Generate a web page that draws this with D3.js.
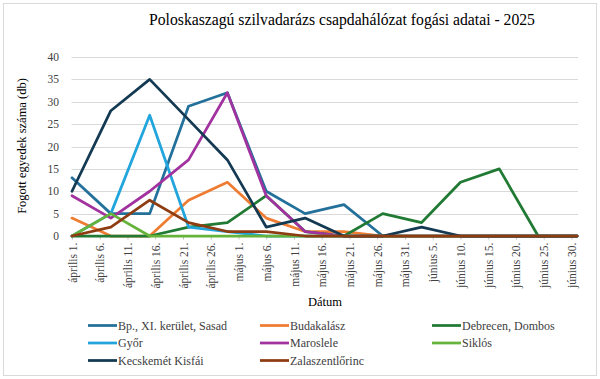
<!DOCTYPE html>
<html>
<head>
<meta charset="utf-8">
<script src="https://cdn.jsdelivr.net/npm/d3@7"></script>
<style>
  html, body { margin: 0; padding: 0; background: #fff; }
  svg { display: block; }
  svg text { font-family: "Liberation Serif", "Times New Roman", serif !important; }
</style>
</head>
<body>
<svg id="chart" width="600" height="379"></svg>
<script>
const titleText = "Poloskaszagú szilvadarázs csapdahálózat fogási adatai - 2025";
const yTitle = "Fogott egyedek száma (db)";
const xTitle = "Dátum";

const sampleDates = ["2025-04-01","2025-04-08","2025-04-15","2025-04-22","2025-04-29","2025-05-06","2025-05-13","2025-05-20","2025-05-27","2025-06-03","2025-06-10","2025-06-17","2025-06-24","2025-07-01"];

const tickDates = ["2025-04-01","2025-04-06","2025-04-11","2025-04-16","2025-04-21","2025-04-26","2025-05-01","2025-05-06","2025-05-11","2025-05-16","2025-05-21","2025-05-26","2025-05-31","2025-06-05","2025-06-10","2025-06-15","2025-06-20","2025-06-25","2025-06-30"];
const tickLabels = ["április 1.","április 6.","április 11.","április 16.","április 21.","április 26.","május 1.","május 6.","május 11.","május 16.","május 21.","május 26.","május 31.","június 5.","június 10.","június 15.","június 20.","június 25.","június 30."];
const yTicks = [0,5,10,15,20,25,30,35,40];

const seriesNames = ["Bp., XI. kerület, Sasad","Budakalász","Debrecen, Dombos","Győr","Maroslele","Siklós","Kecskemét Kisfái","Zalaszentlőrinc"];
const seriesColors = ["#23709A","#EE7D33","#217A33","#22A5DC","#A2329F","#66B33B","#133A52","#8E3D12"];

const bpSasad        = [13, 5, 5, 29, 32, 10, 5, 7, 0, 0, 0, 0, 0, 0];
const budakalasz     = [4, 0, 0, 8, 12, 4, 1, 1, 0, 0, 0, 0, 0, 0];
const debrecen       = [0, 0, 0, 2, 3, 9, 1, 0, 5, 3, 12, 15, 0, 0];
const gyor           = [0, 5, 27, 2, 1, 0, 0, 0, 0, 0, 0, 0, 0, 0];
const maroslele      = [9, 4, 10, 17, 32, 9, 1, 0, 0, 0, 0, 0, 0, 0];
const siklos         = [0, 5, 0, 0, 0, 0, 0, 0, 0, 0, 0, 0, 0, 0];
const kecskemet      = [10, 28, 35, 26, 17, 2, 4, 0, 0, 2, 0, 0, 0, 0];
const zalaszentlorinc= [0, 2, 8, 3, 1, 1, 0, 0, 0, 0, 0, 0, 0, 0];

const seriesValues = [bpSasad, budakalasz, debrecen, gyor, maroslele, siklos, kecskemet, zalaszentlorinc];

const parse = d3.utcParse("%Y-%m-%d");
const svg = d3.select("#chart");
const SERIF = "'Liberation Serif', 'Times New Roman', serif";

// outer border
svg.append("rect").attr("x", 3.5).attr("y", 3.5).attr("width", 593).attr("height", 372)
  .attr("fill", "#fff").attr("stroke", "#d9d9d9").attr("stroke-width", 1);

const x = d3.scaleUtc().domain([parse("2025-04-01"), parse("2025-07-01")]).range([72, 577]);
const y = d3.scaleLinear().domain([0, 40]).range([236, 57]);

// gridlines
svg.append("g").selectAll("line").data(yTicks.filter(d => d > 0)).join("line")
  .attr("x1", 71.5).attr("x2", 578)
  .attr("y1", d => Math.round(y(d)) + 0.5).attr("y2", d => Math.round(y(d)) + 0.5)
  .attr("stroke", "#d9d9d9").attr("stroke-width", 1);

// y axis labels
svg.append("g").selectAll("text").data(yTicks).join("text")
  .attr("x", 59).attr("y", d => y(d)).attr("dy", "0.35em")
  .attr("text-anchor", "end").attr("font-size", 11.5).attr("fill", "#404040")
  .style("font-family", SERIF)
  .text(d => d);

// x axis
const xAxis = d3.axisBottom(x)
  .tickValues(tickDates.map(parse))
  .tickFormat((d, i) => tickLabels[i])
  .tickSizeInner(3).tickSizeOuter(0).tickPadding(4);
const gx = svg.append("g").attr("transform", "translate(0,236.5)").call(xAxis)
  .attr("font-family", SERIF);
gx.select(".domain").attr("stroke", "#bfbfbf").attr("d", "M71.5,0H578");
gx.selectAll(".tick line").attr("stroke", "#bfbfbf");
gx.selectAll(".tick text")
  .style("font-family", SERIF)
  .attr("font-size", 11.5).attr("fill", "#404040")
  .attr("text-anchor", "end")
  .attr("transform", "rotate(-90)")
  .attr("x", -6).attr("y", 0).attr("dy", "0.35em");

// lines
const line = d3.line().x((d, i) => x(parse(sampleDates[i]))).y(d => y(d));
svg.append("g").selectAll("path").data(seriesValues).join("path")
  .attr("d", d => line(d))
  .attr("fill", "none")
  .attr("stroke", (d, i) => seriesColors[i])
  .attr("stroke-width", 2.75)
  .attr("stroke-linejoin", "round")
  .attr("stroke-linecap", "round");

// title
svg.append("text").attr("x", 342).attr("y", 25).attr("text-anchor", "middle")
  .style("font-family", SERIF)
  .attr("font-size", 15.7).attr("fill", "#000").text(titleText);

// y title
svg.append("text").attr("transform", "translate(26,146) rotate(-90)")
  .style("font-family", SERIF)
  .attr("text-anchor", "middle").attr("font-size", 12.5).attr("fill", "#000").text(yTitle);

// x title
svg.append("text").attr("x", 325).attr("y", 306).attr("text-anchor", "middle")
  .style("font-family", SERIF)
  .attr("font-size", 12.5).attr("fill", "#000").text(xTitle);

// legend
const colX = [88, 260, 432];
const rowY = [325.5, 343, 360.5];
const lg = svg.append("g").selectAll("g").data(seriesNames).join("g")
  .attr("transform", (d, i) => `translate(${colX[i % 3]},${rowY[Math.floor(i / 3)]})`);
lg.append("line").attr("x1", 0).attr("x2", 29).attr("y1", 0).attr("y2", 0)
  .attr("stroke", (d, i) => seriesColors[i]).attr("stroke-width", 2.75);
lg.append("text").attr("x", 30).attr("y", 0).attr("dy", "0.35em")
  .style("font-family", SERIF)
  .attr("font-size", 12).attr("fill", "#404040").text(d => d);
</script>
</body>
</html>
